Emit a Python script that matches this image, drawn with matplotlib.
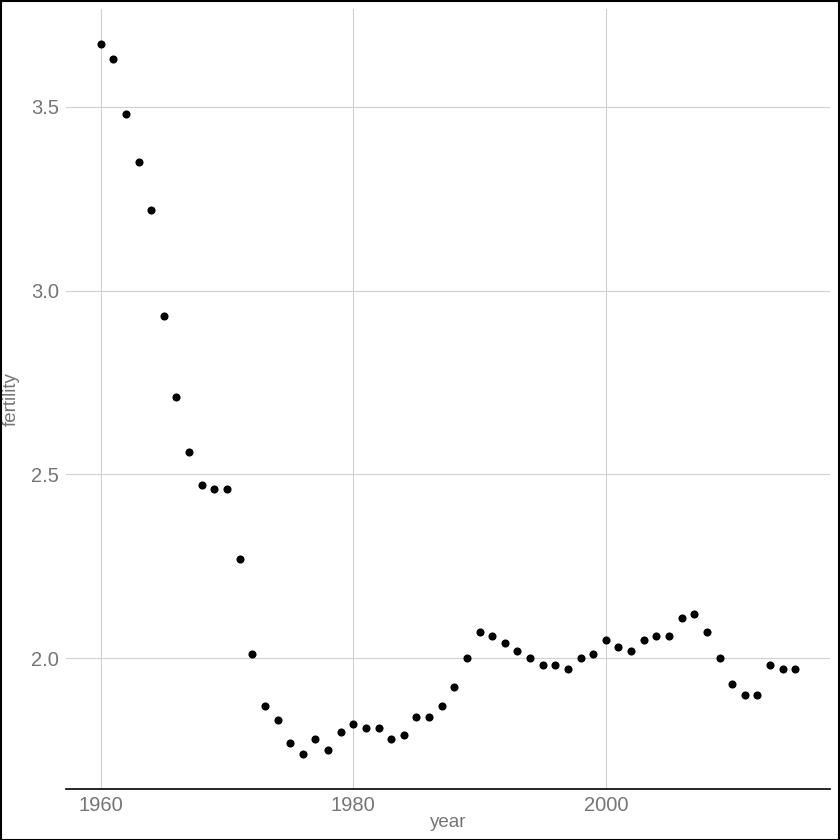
import matplotlib
matplotlib.use("Agg")
import matplotlib.pyplot as plt

years = list(range(1960, 2016))
fertility = [3.67, 3.63, 3.48, 3.35, 3.22, 2.93, 2.71, 2.56, 2.47, 2.46,
             2.46, 2.27, 2.01, 1.87, 1.83, 1.77, 1.74, 1.78, 1.75, 1.80,
             1.82, 1.81, 1.81, 1.78, 1.79, 1.84, 1.84, 1.87, 1.92, 2.00,
             2.07, 2.06, 2.04, 2.02, 2.00, 1.98, 1.98, 1.97, 2.00, 2.01,
             2.05, 2.03, 2.02, 2.05, 2.06, 2.06, 2.11, 2.12, 2.07, 2.00,
             1.93, 1.90, 1.90, 1.98, 1.97, 1.97]
xticks = [1960, 1980, 2000]
yticks = [2.0, 2.5, 3.0, 3.5]

plt.rcParams['font.family'] = ['Liberation Sans', 'DejaVu Sans']

fig = plt.figure(figsize=(8.4, 8.4), dpi=100)
ax = fig.add_axes([66/840, 1 - 789/840, (830-66)/840, (789-9)/840])

ax.scatter(years, fertility, s=34, color='black', zorder=3, linewidths=0)

xr = max(years) - min(years)
yr = max(fertility) - min(fertility)
ax.set_xlim(min(years) - 0.05*xr, max(years) + 0.05*xr)
ax.set_ylim(min(fertility) - 0.05*yr, max(fertility) + 0.05*yr)

ax.set_xticks(xticks)
ax.set_yticks(yticks)
ax.set_yticklabels([f"{v:.1f}" for v in yticks])
ax.grid(True, color='#d0d0d0', linewidth=0.8)
ax.set_axisbelow(True)
for s in ['top', 'right', 'left']:
    ax.spines[s].set_visible(False)
ax.spines['bottom'].set_color('black')
ax.spines['bottom'].set_linewidth(1.2)
ax.tick_params(axis='both', length=0, labelsize=14.5, labelcolor='#757575', pad=5)
ax.set_xlabel('year', fontsize=13.5, color='#757575', labelpad=-1)
ax.set_ylabel('fertility', fontsize=13.5, color='#757575', labelpad=8)

fig.patches.append(plt.Rectangle((0.5/840, 0.5/840), 1 - 1.5/840, 1 - 1.5/840,
                                 transform=fig.transFigure, fill=False,
                                 edgecolor='black', linewidth=1.5))
fig.savefig('out.png', dpi=100, facecolor='white')
